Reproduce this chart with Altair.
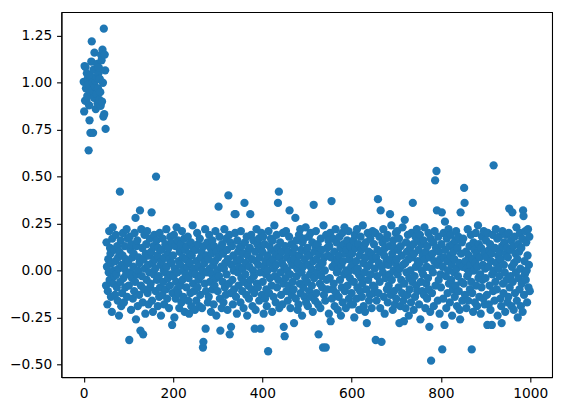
import altair as alt
import pandas as pd

# First 50 observations (high cluster)
cluster_y = [
    1.005, 0.847, 1.089, 0.905, 1.083, 0.97, 0.903, 1.05, 0.93, 1.02,
    0.99, 0.64, 0.88, 0.80, 1.04, 0.733, 0.95, 1.113, 1.22, 0.96,
    1.00, 0.733, 1.07, 0.92, 1.16, 0.98, 1.01, 0.86, 1.03, 0.94,
    1.10, 0.89, 0.97, 1.05, 1.08, 0.91, 1.02, 0.95, 0.877, 1.148,
    1.12, 0.90, 1.176, 1.00, 0.82, 1.288, 0.833, 1.15, 1.066, 0.754,
]

# Remaining observations (band around zero)
band_y = [
    -0.08, 0.15, 0.02, -0.18, -0.11, 0.06, -0.01, 0.21, -0.05, 0.12,
    0.09, -0.14, 0.04, -0.22, 0.17, 0.23, -0.07, 0.00, 0.11, -0.03,
    -0.13, 0.05, 0.19, -0.02, -0.09, 0.13, -0.16, 0.07, 0.01, -0.24,
    0.10, 0.42, -0.06, 0.16, -0.19, 0.03, -0.12, 0.08, 0.20, -0.04,
    -0.17, 0.01, 0.13, -0.09, 0.06, -0.02, 0.22, -0.14, 0.04, 0.17,

    0.05, -0.08, -0.37, 0.18, -0.01, 0.11, -0.21, 0.14, -0.04, 0.07,
    -0.15, 0.02, 0.09, -0.11, 0.20, -0.06, 0.28, -0.26, 0.13, -0.02,
    0.16, -0.19, 0.00, 0.07, -0.13, 0.04, 0.32, -0.32, -0.08, 0.22,
    -0.03, 0.12, -0.17, -0.34, 0.06, -0.10, 0.19, 0.01, -0.23, 0.09,
    0.14, -0.05, 0.21, -0.12, 0.03, -0.18, 0.08, -0.01, 0.17, -0.09,

    -0.07, 0.10, 0.31, -0.16, 0.04, -0.22, 0.13, -0.02, 0.19, 0.06,
    0.01, -0.11, 0.50, 0.16, -0.05, 0.08, -0.19, 0.12, -0.03, -0.14,
    0.20, -0.09, 0.03, -0.24, 0.11, 0.05, -0.13, 0.17, -0.06, 0.00,
    -0.18, 0.07, -0.01, 0.14, -0.10, 0.22, 0.02, -0.15, 0.09, -0.04,
    0.12, -0.20, 0.06, -0.08, 0.18, -0.02, 0.15, 0.04, -0.29, -0.12,

    0.08, -0.03, 0.19, -0.25, 0.01, 0.13, -0.15, -0.06, 0.23, -0.10,
    -0.01, 0.16, -0.12, 0.05, -0.20, 0.10, 0.03, -0.08, 0.14, -0.17,
    0.21, -0.05, 0.07, -0.14, 0.00, 0.17, -0.22, 0.11, -0.02, 0.06,
    -0.09, 0.13, 0.02, 0.18, -0.16, -0.04, -0.23, 0.09, 0.04, -0.12,
    0.15, -0.19, 0.08, -0.01, 0.24, -0.07, 0.12, -0.11, 0.01, -0.21,

    -0.02, 0.11, -0.16, 0.05, 0.20, -0.09, 0.14, -0.05, 0.02, -0.19,
    0.17, -0.13, 0.07, -0.03, 0.10, -0.20, 0.00, -0.41, -0.38, 0.13,
    0.04, -0.07, 0.22, -0.31, -0.11, 0.08, -0.01, 0.15, -0.17, 0.06,
    -0.14, 0.19, 0.01, -0.06, 0.12, -0.22, 0.09, -0.02, 0.16, -0.10,
    0.03, -0.18, 0.13, -0.08, 0.05, 0.21, -0.04, -0.24, 0.10, 0.00,

    -0.11, 0.07, 0.34, -0.03, 0.18, -0.15, -0.32, 0.12, 0.02, -0.20,
    0.14, -0.06, 0.09, -0.17, 0.01, 0.22, -0.09, 0.04, -0.13, 0.17,
    -0.02, 0.11, -0.21, 0.06, 0.40, -0.07, 0.19, -0.34, 0.15, -0.12,
    -0.30, 0.03, 0.13, -0.05, -0.18, 0.08, 0.00, -0.10, 0.30, 0.20,
    0.30, -0.14, 0.05, -0.23, 0.16, -0.01, 0.10, -0.08, 0.02, 0.12,

    0.06, -0.17, 0.21, -0.04, 0.13, -0.11, 0.01, 0.09, -0.20, -0.06,
    0.36, 0.15, -0.02, 0.04, -0.13, 0.18, -0.24, 0.08, -0.08, 0.11,
    -0.15, 0.02, 0.12, 0.30, -0.05, 0.19, -0.10, 0.06, -0.19, 0.00,
    0.16, -0.03, -0.12, -0.31, 0.10, -0.21, 0.05, 0.22, -0.07, 0.14,
    -0.09, 0.03, 0.17, -0.16, 0.07, -0.01, -0.31, 0.12, 0.20, -0.13,

    0.10, -0.06, 0.18, -0.23, 0.02, 0.14, -0.15, 0.05, -0.02, -0.10,
    -0.19, 0.08, 0.00, -0.43, 0.21, -0.12, 0.13, -0.04, 0.04, 0.17,
    0.11, -0.08, -0.22, 0.16, 0.06, -0.14, 0.01, 0.24, -0.03, 0.09,
    -0.17, 0.03, 0.19, -0.09, 0.12, 0.36, -0.05, 0.42, -0.20, 0.07,
    0.15, -0.01, -0.13, 0.10, 0.04, -0.18, 0.20, -0.07, -0.30, 0.02,

    -0.35, 0.13, -0.04, 0.21, -0.11, 0.07, 0.00, -0.16, 0.10, -0.08,
    0.18, 0.32, -0.02, -0.20, 0.05, 0.14, -0.13, 0.03, -0.06, 0.09,
    -0.10, -0.28, 0.12, 0.06, 0.28, -0.15, 0.16, -0.03, 0.01, -0.21,
    0.04, -0.18, 0.19, 0.08, -0.07, 0.22, -0.12, 0.11, -0.01, -0.24,
    0.15, 0.02, -0.09, 0.17, -0.14, 0.06, -0.04, 0.23, -0.17, 0.10,

    -0.06, 0.12, -0.19, 0.03, 0.18, -0.11, 0.08, -0.02, 0.20, -0.14,
    0.01, -0.08, 0.15, -0.22, 0.05, 0.35, -0.04, 0.10, -0.16, 0.13,
    0.21, -0.12, 0.06, -0.01, 0.14, -0.18, -0.34, 0.02, 0.09, -0.07,
    -0.20, 0.17, -0.03, 0.11, -0.09, 0.04, -0.41, 0.24, -0.13, 0.07,
    0.00, -0.16, -0.41, 0.19, -0.05, 0.12, -0.10, 0.08, 0.16, -0.23,

    0.13, -0.04, 0.20, -0.27, 0.07, 0.37, -0.15, 0.02, -0.10, 0.17,
    -0.07, 0.10, -0.19, 0.04, 0.22, -0.12, 0.15, -0.01, 0.06, -0.21,
    0.01, -0.14, 0.08, 0.18, -0.05, 0.12, -0.24, 0.03, -0.09, 0.20,
    -0.17, 0.05, 0.14, -0.02, 0.23, -0.11, 0.09, -0.20, 0.00, 0.11,
    0.16, -0.08, -0.01, 0.21, -0.15, 0.06, -0.04, 0.13, -0.18, 0.02,

    -0.12, 0.09, 0.03, -0.18, 0.16, -0.06, -0.25, 0.19, 0.00, 0.12,
    0.05, -0.15, 0.22, -0.09, 0.01, 0.14, -0.02, -0.21, 0.08, -0.11,
    0.18, -0.04, 0.11, -0.14, -0.07, 0.24, 0.04, -0.19, 0.13, -0.01,
    -0.22, 0.07, 0.15, -0.10, -0.28, 0.02, 0.20, -0.05, 0.10, -0.16,
    0.03, -0.13, 0.17, -0.02, 0.09, -0.20, 0.06, 0.21, -0.08, -0.12,

    0.14, -0.09, 0.01, 0.20, -0.37, 0.07, -0.16, -0.03, 0.11, 0.38,
    -0.12, 0.04, 0.18, -0.06, -0.20, 0.32, 0.10, -0.38, 0.02, 0.15,
    -0.01, 0.22, -0.14, 0.08, -0.23, 0.12, -0.04, 0.17, 0.05, -0.10,
    0.19, -0.17, 0.03, -0.08, 0.13, -0.02, 0.30, 0.06, -0.13, 0.24,
    -0.05, 0.09, -0.21, 0.16, 0.00, -0.11, 0.12, -0.18, 0.04, 0.20,

    -0.15, 0.06, 0.21, -0.02, 0.11, -0.09, 0.17, -0.28, 0.01, -0.19,
    0.13, -0.05, 0.08, -0.12, 0.23, 0.03, -0.16, -0.27, -0.07, 0.27,
    0.04, -0.20, 0.15, -0.01, 0.10, -0.13, 0.19, 0.06, -0.24, -0.04,
    -0.10, 0.12, 0.00, -0.17, 0.20, 0.07, -0.06, 0.36, 0.14, -0.21,
    0.09, -0.03, -0.14, 0.18, 0.02, -0.08, 0.22, -0.11, 0.05, 0.16,

    0.11, -0.18, 0.04, 0.19, -0.26, -0.06, 0.14, 0.00, -0.11, 0.08,
    -0.02, 0.16, -0.13, 0.23, 0.06, -0.20, 0.10, -0.07, 0.02, -0.15,
    0.13, -0.04, 0.20, -0.10, -0.30, 0.07, -0.22, 0.17, -0.48, 0.01,
    -0.12, 0.09, -0.01, 0.15, -0.19, 0.05, 0.21, 0.48, -0.08, 0.12,
    0.53, 0.32, 0.03, -0.16, 0.18, -0.05, 0.10, -0.23, 0.06, -0.02,

    -0.09, 0.14, 0.31, -0.42, 0.02, -0.15, 0.20, 0.07, -0.29, 0.26,
    0.11, -0.03, -0.20, 0.17, 0.05, -0.12, 0.00, 0.22, -0.07, 0.13,
    -0.17, 0.08, 0.19, -0.05, 0.03, -0.24, 0.14, -0.10, 0.10, -0.01,
    0.06, -0.14, 0.16, -0.08, 0.21, 0.01, -0.19, 0.12, -0.03, 0.18,
    -0.11, 0.04, -0.21, -0.26, 0.31, 0.09, -0.06, 0.15, -0.16, 0.02,

    0.17, -0.07, 0.44, 0.36, -0.13, 0.05, 0.10, -0.20, 0.01, -0.03,
    0.22, -0.16, 0.08, -0.01, 0.13, -0.10, 0.03, 0.19, -0.06, -0.42,
    -0.12, 0.06, -0.22, 0.15, 0.00, 0.11, -0.17, 0.04, 0.20, -0.08,
    0.09, -0.19, 0.02, 0.24, -0.04, 0.14, -0.14, 0.07, -0.02, -0.23,
    0.12, -0.09, 0.18, -0.05, 0.03, -0.15, 0.21, 0.10, -0.18, 0.01,

    -0.04, 0.16, 0.07, -0.13, -0.29, 0.20, 0.02, -0.18, 0.11, -0.08,
    0.14, -0.21, 0.05, 0.09, -0.29, -0.02, 0.19, -0.11, 0.56, 0.00,
    -0.16, 0.12, -0.06, 0.22, 0.04, -0.10, 0.17, -0.24, 0.08, 0.01,
    0.18, -0.03, 0.10, -0.15, 0.06, -0.19, -0.28, 0.13, 0.21, -0.07,
    -0.12, 0.03, 0.15, -0.01, -0.22, 0.09, 0.19, -0.05, 0.12, -0.17,

    0.07, -0.14, 0.20, 0.33, -0.09, 0.11, -0.03, 0.16, -0.19, 0.02,
    0.31, -0.06, 0.13, -0.21, 0.04, 0.18, -0.12, 0.09, -0.01, 0.23,
    -0.16, 0.06, -0.25, 0.14, -0.04, 0.10, -0.10, 0.20, 0.01, -0.19,
    0.12, -0.07, 0.17, -0.22, 0.32, 0.29, -0.13, 0.05, -0.02, 0.21,
    -0.05, 0.15, 0.00, -0.17, 0.08, 0.22, -0.09, 0.03, 0.18, -0.11,
]

x_ticks = [0, 200, 400, 600, 800, 1000]
y_ticks = [-0.5, -0.25, 0.0, 0.25, 0.5, 0.75, 1.0, 1.25]

y_values = cluster_y + band_y
df = pd.DataFrame({"x": list(range(len(y_values))), "y": y_values})

chart = (
    alt.Chart(df)
    .mark_circle(size=70, color="#1f77b4", opacity=1)
    .encode(
        x=alt.X(
            "x:Q",
            scale=alt.Scale(domain=[-49.95, 1048.95], nice=False, zero=False),
            axis=alt.Axis(values=x_ticks, format="d", title=None, grid=False),
        ),
        y=alt.Y(
            "y:Q",
            scale=alt.Scale(domain=[-0.568, 1.376], nice=False, zero=False),
            axis=alt.Axis(values=y_ticks, format=".2f", title=None, grid=False),
        ),
    )
    .properties(
        width=496,
        height=369,
        autosize=alt.AutoSizeParams(type="none"),
        padding={"left": 54, "top": 2, "right": 8, "bottom": 30},
    )
    .configure_view(stroke="black", strokeWidth=1.1)
    .configure_axis(
        domainColor="black",
        domainWidth=1.1,
        tickColor="black",
        tickWidth=1.1,
        tickSize=4.9,
        labelPadding=4.9,
        labelFont="DejaVu Sans",
        labelFontSize=13.9,
        labelColor="black",
    )
)

chart.save("out.html", embed_options={"renderer": "svg", "actions": False})
